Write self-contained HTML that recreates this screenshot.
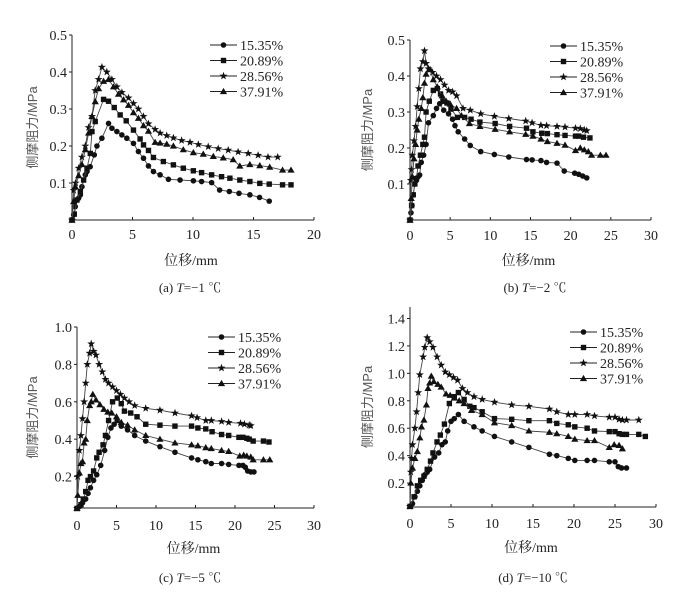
<!DOCTYPE html>
<html><head><meta charset="utf-8">
<style>
html,body{margin:0;padding:0;background:#fff;}
svg{display:block;font-family:"Liberation Serif",serif;}
</style></head>
<body>
<svg id="fig" width="695" height="592" viewBox="0 0 695 592"></svg>
<script>
const seriesNames = ["15.35%","20.89%","28.56%","37.91%"];
const markerTypes = ["circle","square","star","triangle"];

const aX0=[0,0.14,0.27,0.55,0.69,0.82,1.1,1.24,1.5,1.84,2.06,2.47,3.02,3.3,3.71,4.12,4.53,5.08,5.49,5.91,6.32,6.73,7.28,7.97,8.93,10.03,10.71,11.54,12.2,13.0,13.8,14.7,15.5,16.3];
const aY0=[0,0.014,0.036,0.059,0.068,0.09,0.122,0.131,0.144,0.176,0.2,0.221,0.261,0.248,0.239,0.23,0.221,0.207,0.185,0.167,0.146,0.131,0.122,0.11,0.108,0.106,0.104,0.101,0.081,0.077,0.072,0.068,0.061,0.051];
const aX1=[0,0.19,0.41,0.69,0.96,1.24,1.51,1.65,1.92,2.61,3.02,3.49,3.98,4.48,5.08,5.63,5.91,6.32,6.73,7.55,8.38,9.2,10.03,10.71,11.54,12.36,13.05,13.87,14.7,15.52,16.3,17.4,18.1];
const aY1=[0,0.016,0.054,0.077,0.108,0.14,0.18,0.239,0.266,0.326,0.321,0.304,0.284,0.268,0.243,0.219,0.203,0.188,0.169,0.158,0.149,0.14,0.133,0.128,0.122,0.117,0.113,0.108,0.104,0.099,0.097,0.095,0.095];
const aX2=[0,0.14,0.3,0.55,0.82,1.1,1.37,1.65,1.92,2.2,2.47,2.88,3.3,3.71,4.12,4.67,5.08,5.49,5.91,6.32,6.87,7.28,7.83,8.38,9.06,9.75,10.44,11.26,12.08,12.91,13.73,14.56,15.38,16.2,17.0];
const aY2=[0,0.08,0.1,0.14,0.17,0.2,0.25,0.28,0.35,0.38,0.413,0.4,0.38,0.36,0.345,0.33,0.315,0.3,0.28,0.26,0.245,0.235,0.228,0.222,0.215,0.21,0.204,0.198,0.193,0.189,0.184,0.18,0.175,0.17,0.17];
const aX3=[0,0.14,0.27,0.55,0.82,1.1,1.37,1.65,1.92,2.2,2.61,3.02,3.43,3.84,4.26,4.67,5.08,5.49,5.91,6.32,6.87,7.28,7.83,8.38,9.2,10.03,10.85,11.68,12.5,13.32,13.87,14.7,15.52,16.34,17.4,18.1];
const aY3=[0,0.05,0.09,0.12,0.15,0.19,0.235,0.28,0.32,0.355,0.375,0.38,0.36,0.34,0.325,0.31,0.29,0.275,0.255,0.24,0.21,0.208,0.205,0.2,0.19,0.182,0.178,0.172,0.168,0.163,0.146,0.15,0.147,0.143,0.135,0.135];

const bX0=[0,0.12,0.25,0.4,0.6,0.8,1.0,1.2,1.4,1.7,2.0,2.3,2.9,3.3,3.7,4.2,4.8,5.3,5.6,6.0,6.8,7.5,8.8,10.5,12.3,14.5,15.2,16.3,17.0,18.3,19.2,20.5,21.0,21.5,22.0];
const bY0=[0,0.02,0.04,0.07,0.1,0.11,0.12,0.125,0.16,0.18,0.21,0.27,0.29,0.31,0.323,0.305,0.295,0.28,0.262,0.245,0.225,0.207,0.19,0.182,0.175,0.168,0.167,0.165,0.16,0.158,0.136,0.13,0.127,0.122,0.117];
const bX1=[0,0.2,0.4,0.6,0.8,1.0,1.3,1.6,1.8,2.0,2.4,2.9,3.4,3.8,4.1,4.6,5.1,5.9,6.8,7.6,8.7,10.6,12.4,14.5,15.3,16.4,17.1,18.3,19.3,20.6,21.0,21.6,22.4];
const bY1=[0,0.04,0.07,0.1,0.115,0.15,0.18,0.21,0.23,0.3,0.33,0.36,0.365,0.35,0.33,0.325,0.308,0.285,0.285,0.28,0.272,0.268,0.26,0.255,0.245,0.241,0.24,0.237,0.235,0.233,0.233,0.23,0.228];
const bX2=[0,0.1,0.2,0.3,0.5,0.7,0.9,1.1,1.3,1.6,1.8,2.0,2.3,2.8,3.3,3.8,4.3,4.8,5.3,5.8,6.6,7.5,8.8,10.5,12.3,14.4,15.2,16.3,17.0,18.3,19.3,20.6,21.2,21.7,22.0];
const bY2=[0,0.11,0.14,0.18,0.22,0.26,0.315,0.365,0.42,0.44,0.47,0.435,0.42,0.41,0.4,0.39,0.375,0.36,0.356,0.345,0.31,0.305,0.295,0.288,0.282,0.275,0.27,0.263,0.262,0.26,0.258,0.255,0.254,0.25,0.248];
const bX3=[0,0.15,0.3,0.5,0.7,0.9,1.1,1.4,1.6,1.8,2.0,2.5,2.9,3.4,4.0,4.5,5.0,5.8,6.4,7.4,8.7,10.6,12.4,14.4,15.3,16.3,17.1,18.3,19.3,20.6,21.2,21.7,22.2,22.6,23.7,24.4];
const bY3=[0,0.06,0.12,0.17,0.21,0.25,0.28,0.31,0.34,0.38,0.405,0.418,0.39,0.37,0.345,0.33,0.322,0.31,0.29,0.268,0.26,0.252,0.245,0.238,0.233,0.225,0.218,0.213,0.208,0.193,0.2,0.195,0.19,0.18,0.18,0.18];

const cX0=[0,0.3,0.7,1.1,1.4,1.7,2.1,2.5,3.0,3.5,3.9,4.3,4.7,5.1,5.6,6.4,7.3,8.7,10.5,12.4,14.5,15.3,16.3,17.0,18.3,19.2,20.5,21.0,21.3,21.6,22.0,22.4];
const cY0=[0.03,0.04,0.06,0.08,0.11,0.14,0.18,0.21,0.26,0.34,0.41,0.46,0.48,0.5,0.47,0.45,0.42,0.39,0.36,0.33,0.3,0.29,0.28,0.27,0.27,0.265,0.26,0.26,0.25,0.23,0.225,0.225];
const cX1=[0,0.5,0.8,1.1,1.4,1.7,2.1,2.5,2.8,3.3,3.6,4.0,4.5,5.1,5.6,6.0,6.8,7.6,8.7,10.5,12.4,14.5,15.3,16.3,17.1,18.3,19.2,20.5,21.0,21.5,21.8,22.3,23.6,24.3];
const cY1=[0.03,0.05,0.08,0.12,0.18,0.2,0.23,0.3,0.33,0.37,0.42,0.5,0.6,0.62,0.59,0.55,0.54,0.52,0.48,0.475,0.47,0.47,0.46,0.455,0.44,0.425,0.42,0.41,0.41,0.405,0.4,0.39,0.39,0.385];
const cX2=[0,0.1,0.3,0.5,0.7,0.9,1.1,1.3,1.6,1.8,2.1,2.4,2.8,3.2,3.6,4.0,4.5,5.0,5.5,6.0,6.6,7.3,8.7,10.5,12.4,14.5,15.2,16.3,17.0,18.3,19.2,20.7,21.2,21.8,22.0];
const cY2=[0.03,0.2,0.34,0.42,0.51,0.6,0.7,0.8,0.86,0.91,0.87,0.85,0.8,0.76,0.72,0.7,0.68,0.66,0.64,0.62,0.6,0.58,0.565,0.555,0.54,0.525,0.515,0.5,0.5,0.495,0.49,0.485,0.48,0.475,0.472];
const cX3=[0,0.1,0.3,0.5,0.7,0.9,1.1,1.3,1.6,1.8,2.0,2.4,2.9,3.4,3.9,4.4,5.0,5.6,6.4,7.3,8.7,10.5,12.4,14.5,15.3,16.3,17.0,18.3,19.2,20.6,21.1,21.5,22.0,22.3,23.6,24.4];
const cY3=[0.03,0.1,0.22,0.27,0.28,0.38,0.4,0.5,0.58,0.6,0.64,0.61,0.585,0.56,0.545,0.54,0.52,0.49,0.475,0.45,0.42,0.4,0.38,0.37,0.365,0.355,0.35,0.34,0.335,0.31,0.315,0.31,0.305,0.29,0.29,0.29];

const dX0=[0,0.3,0.6,0.9,1.2,1.5,1.8,2.1,2.4,3.0,3.5,3.9,4.3,4.6,5.0,5.4,5.9,6.6,7.8,8.8,10.3,12.4,14.5,17.0,17.9,19.3,20.1,21.6,22.5,24.3,25.0,25.4,25.8,26.4];
const dY0=[0.03,0.05,0.1,0.14,0.18,0.22,0.26,0.28,0.3,0.39,0.42,0.48,0.5,0.58,0.65,0.67,0.7,0.65,0.61,0.58,0.54,0.5,0.46,0.41,0.4,0.38,0.365,0.365,0.365,0.355,0.355,0.32,0.31,0.31];
const dX1=[0,0.5,0.9,1.3,1.7,2.1,2.5,2.8,3.3,3.7,4.2,4.8,5.4,5.9,6.6,7.3,7.8,8.8,10.3,12.4,14.5,17.0,17.9,19.3,20.1,21.6,22.5,24.3,25.0,25.5,25.9,26.4,27.9,28.7];
const dY1=[0.03,0.1,0.18,0.22,0.25,0.3,0.36,0.42,0.5,0.55,0.63,0.78,0.83,0.86,0.81,0.76,0.75,0.72,0.67,0.665,0.655,0.655,0.635,0.625,0.61,0.6,0.58,0.575,0.575,0.56,0.555,0.555,0.555,0.54];
const dX2=[0,0.1,0.2,0.3,0.6,0.8,1.0,1.2,1.6,1.8,2.1,2.4,2.8,3.3,3.8,4.3,4.8,5.3,5.8,6.4,7.0,7.8,8.8,10.3,12.4,14.5,17.0,17.9,19.3,20.1,21.6,22.5,24.3,25.0,25.5,25.9,26.4,27.9];
const dY2=[0.03,0.28,0.38,0.48,0.6,0.72,0.86,0.99,1.12,1.19,1.26,1.23,1.19,1.12,1.06,1.01,0.99,0.97,0.95,0.89,0.86,0.83,0.81,0.79,0.77,0.76,0.74,0.72,0.7,0.7,0.7,0.69,0.68,0.68,0.665,0.66,0.66,0.66];
const dX3=[0,0.1,0.3,0.6,0.9,1.2,1.4,1.7,2.0,2.2,2.4,2.6,2.9,3.4,3.8,4.4,4.9,5.4,6.0,6.6,7.5,8.8,10.3,12.4,14.5,17.0,17.9,19.3,20.1,21.6,22.5,24.3,24.9,25.5,25.9];
const dY3=[0.03,0.2,0.31,0.38,0.43,0.53,0.61,0.66,0.77,0.89,0.93,0.98,0.94,0.92,0.9,0.85,0.84,0.82,0.8,0.78,0.73,0.7,0.64,0.62,0.58,0.57,0.56,0.54,0.52,0.51,0.51,0.46,0.48,0.475,0.45];

const aXTicks=[0,5,10,15,20];
const aYTicks=[0.1,0.2,0.3,0.4,0.5];
const bXTicks=[0,5,10,15,20,25,30];
const bYTicks=[0.1,0.2,0.3,0.4,0.5];
const cXTicks=[0,5,10,15,20,25,30];
const cYTicks=[0.2,0.4,0.6,0.8,1.0];
const dXTicks=[0,5,10,15,20,25,30];
const dYTicks=[0.2,0.4,0.6,0.8,1.0,1.2,1.4];

const panels=[
 {id:"a",xs:[aX0,aX1,aX2,aX3],ys:[aY0,aY1,aY2,aY3],xt:aXTicks,yt:aYTicks,xmax:20,ymax:0.5,
  px0:72,px1:314,py0:220,py1:35,axisY:220,axisTop:35,legX:210,legY:45,cap:"(a) ",tval:"−1",capX:190,capY:292,xtY:239,ylabX:37},
 {id:"b",xs:[bX0,bX1,bX2,bX3],ys:[bY0,bY1,bY2,bY3],xt:bXTicks,yt:bYTicks,xmax:30,ymax:0.5,
  px0:410,px1:651,py0:220,py1:40,axisY:220,axisTop:40,legX:550,legY:46,cap:"(b) ",tval:"−2",capX:535,capY:292,xtY:240,ylabX:372},
 {id:"c",xs:[cX0,cX1,cX2,cX3],ys:[cY0,cY1,cY2,cY3],xt:cXTicks,yt:cYTicks,xmax:30,ymax:1.0,
  px0:77,px1:314,py0:514,py1:327,axisY:508,axisTop:327,legX:208,legY:337,cap:"(c) ",tval:"−5",capX:190,capY:582,xtY:530,ylabX:37},
 {id:"d",xs:[dX0,dX1,dX2,dX3],ys:[dY0,dY1,dY2,dY3],xt:dXTicks,yt:dYTicks,xmax:30,ymax:1.4,
  px0:410,px1:656,py0:510.5,py1:318.5,axisY:507,axisTop:307,legX:570,legY:332,cap:"(d) ",tval:"−10",capX:533,capY:582,xtY:528,ylabX:372}
];

const NS="http://www.w3.org/2000/svg";
const svg=document.getElementById("fig");
function mk(tag,attrs,parent){const e=document.createElementNS(NS,tag);for(const k in attrs)e.setAttribute(k,attrs[k]);(parent||svg).appendChild(e);return e;}

function marker(g,type,x,y){
  let e;
  if(type==="circle"){e=mk("circle",{cx:x,cy:y,r:2.8,fill:"#111"},g);}
  else if(type==="square"){e=mk("rect",{x:x-2.7,y:y-2.7,width:5.4,height:5.4,fill:"#111"},g);}
  else if(type==="triangle"){e=mk("polygon",{points:`${x},${y-3.6} ${x-3.6},${y+2.6} ${x+3.6},${y+2.6}`,fill:"#111"},g);}
  else{let p=[];for(let i=0;i<10;i++){const r=i%2?1.7:4.2;const a=-Math.PI/2+i*Math.PI/5;p.push((x+r*Math.cos(a)).toFixed(1)+","+(y+r*Math.sin(a)).toFixed(1));}
    e=mk("polygon",{points:p.join(" "),fill:"#111"},g);}
  return e;
}

panels.forEach(P=>{
  const g=mk("g",{});
  
  
  const X=v=>P.px0+(P.px1-P.px0)*v/P.xmax;
  const Y=v=>P.py0+(P.py1-P.py0)*v/P.ymax;
  const xa=mk("line",{x1:P.px0,y1:P.axisY,x2:P.px1,y2:P.axisY,stroke:"#222","stroke-width":1},g);
  
  
  const ya=mk("line",{x1:P.px0,y1:P.axisY,x2:P.px0,y2:P.axisTop,stroke:"#222","stroke-width":1},g);
  
  
  P.xt.forEach(t=>{
    const x=X(t);
    mk("line",{x1:x,y1:P.axisY,x2:x,y2:P.axisY-3,stroke:"#222","stroke-width":1},g);
    const tx=mk("text",{x:x,y:P.xtY,"font-size":14,"text-anchor":"middle",fill:"#222"},g);
    tx.textContent=String(t);
    
    
  });
  P.yt.forEach(t=>{
    const y=Y(t);
    mk("line",{x1:P.px0,y1:y,x2:P.px0-3,y2:y,stroke:"#222","stroke-width":1},g);
    const tx=mk("text",{x:P.px0-5,y:y+5,"font-size":14,"text-anchor":"end",fill:"#222"},g);
    tx.textContent=t.toFixed(1);
    
    
  });
  const cy=(P.axisY+P.axisTop)/2;
  const yt=mk("text",{x:P.ylabX,y:cy,"font-size":13,"text-anchor":"middle",fill:"#555",transform:`rotate(-90 ${P.ylabX} ${cy})`,"font-family":'"Liberation Sans","Noto Sans CJK SC",sans-serif'},g);
  yt.textContent="侧摩阻力/MPa";
  
  
  const cx=(P.px0+P.px1)/2;
  const xt=mk("text",{x:cx-2,y:P.axisY+45,"font-size":14,"text-anchor":"middle",fill:"#222","font-family":'"Liberation Serif","Noto Serif CJK SC",serif'},g);
  xt.textContent="位移/mm";
  
  
  const cap=mk("text",{x:P.capX,y:P.capY,"font-size":13,"text-anchor":"middle",fill:"#222","font-family":'"Liberation Serif","Noto Serif CJK SC",serif'},g);
  cap.innerHTML=P.cap+'<tspan font-style="italic">T</tspan>='+P.tval+' ℃';
  
  
  P.xs.forEach((xsArr,si)=>{
    const sg=mk("g",{},g);
    
    
    const ysArr=P.ys[si];
    const pts=xsArr.map((v,i)=>X(v).toFixed(1)+","+Y(ysArr[i]).toFixed(1)).join(" ");
    const pl=mk("polyline",{points:pts,fill:"none",stroke:"#444","stroke-width":0.9},sg);
    
    
    xsArr.forEach((v,i)=>{
      const m=marker(sg,markerTypes[si],X(v),Y(ysArr[i]));
      
      
    });
  });
  const lg=mk("g",{},g);
  
  
  seriesNames.forEach((n,i)=>{
    const y=P.legY+i*15.5;
    const e=mk("g",{},lg);
    
    
    mk("line",{x1:P.legX,y1:y,x2:P.legX+27,y2:y,stroke:"#222","stroke-width":1},e);
    marker(e,markerTypes[i],P.legX+13.5,y);
    const t=mk("text",{x:P.legX+30,y:y+5,"font-size":14,fill:"#222"},e);
    t.textContent=n;
  });
});
</script>
</body></html>
